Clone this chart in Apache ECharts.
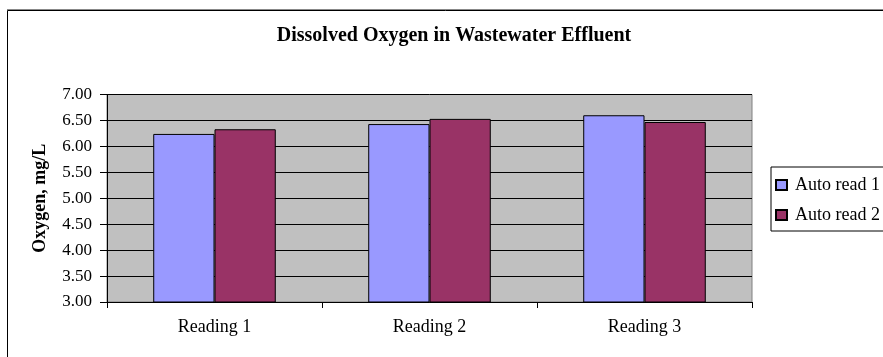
<!DOCTYPE html>
<html>
<head>
<meta charset="utf-8">
<script src="https://cdn.jsdelivr.net/npm/echarts@6/dist/echarts.min.js"></script>
<style>html,body{margin:0;padding:0;background:#fff}#c{width:883px;height:357px}</style>
</head>
<body>
<div id="c"></div>
<script>
var titleText = 'Dissolved Oxygen in Wastewater Effluent';
var categories = ['Reading 1', 'Reading 2', 'Reading 3'];
var seriesNames = ['Auto read 1', 'Auto read 2'];
var autoRead1 = [6.24, 6.43, 6.60];
var autoRead2 = [6.33, 6.53, 6.47];
var yMin = 3.0, yMax = 7.0, yStep = 0.5;

var font = '"Liberation Serif", "Times New Roman", serif';
var chart = echarts.init(document.getElementById('c'));
chart.setOption({
  animation: false,
  backgroundColor: '#fff',
  graphic: [
    { type: 'rect', shape: { x: 7.5, y: 10.5, width: 1000, height: 1000 }, style: { fill: 'none', stroke: '#000', lineWidth: 1 }, z: 0 },
    { type: 'line', shape: { x1: 7, y1: 9.5, x2: 883, y2: 9.5 }, style: { stroke: '#888', lineWidth: 1 }, z: 0 }
  ],
  title: {
    text: titleText, left: 449, top: 21, textAlign: 'center',
    textStyle: { fontFamily: font, fontWeight: 'bold', fontSize: 20, color: '#000' }
  },
  legend: {
    orient: 'vertical', left: 771, top: 167,
    padding: [9, 10, 7, 4], itemGap: 12,
    itemWidth: 11, itemHeight: 10, icon: 'rect',
    borderColor: '#000', borderWidth: 1, backgroundColor: '#fff',
    textStyle: { fontFamily: font, fontSize: 18, color: '#000', padding: [0, 0, 0, 3] },
    data: seriesNames
  },
  grid: { left: 107, right: 131, top: 94.5, bottom: 55, show: true, backgroundColor: '#C0C0C0', borderColor: '#808080', borderWidth: 1 },
  xAxis: {
    type: 'category', data: categories,
    axisLine: { lineStyle: { color: '#000', width: 1 } },
    axisTick: { show: true, length: 6, inside: false, lineStyle: { color: '#000' } },
    axisLabel: { fontFamily: font, fontSize: 18, color: '#000', margin: 16 }
  },
  yAxis: {
    type: 'value', min: yMin, max: yMax, interval: yStep,
    name: 'Oxygen, mg/L', nameLocation: 'middle', nameGap: 58, nameRotate: 90,
    nameTextStyle: { fontFamily: font, fontWeight: 'bold', fontSize: 18, color: '#000' },
    axisLine: { show: true, lineStyle: { color: '#000', width: 1 } },
    axisTick: { show: true, length: 7, lineStyle: { color: '#000' } },
    axisLabel: { fontFamily: font, fontSize: 17, color: '#000', margin: 15, formatter: function (v) { return v.toFixed(2); } },
    splitLine: { show: true, lineStyle: { color: '#000', width: 1 } }
  },
  series: [
    { name: seriesNames[0], type: 'bar', data: autoRead1, barGap: '0%', barCategoryGap: '43%',
      itemStyle: { color: '#9999FF', borderColor: '#000', borderWidth: 1 } },
    { name: seriesNames[1], type: 'bar', data: autoRead2, barGap: '0%', barCategoryGap: '43%',
      itemStyle: { color: '#993366', borderColor: '#000', borderWidth: 1 } }
  ]
});
</script>
</body>
</html>
